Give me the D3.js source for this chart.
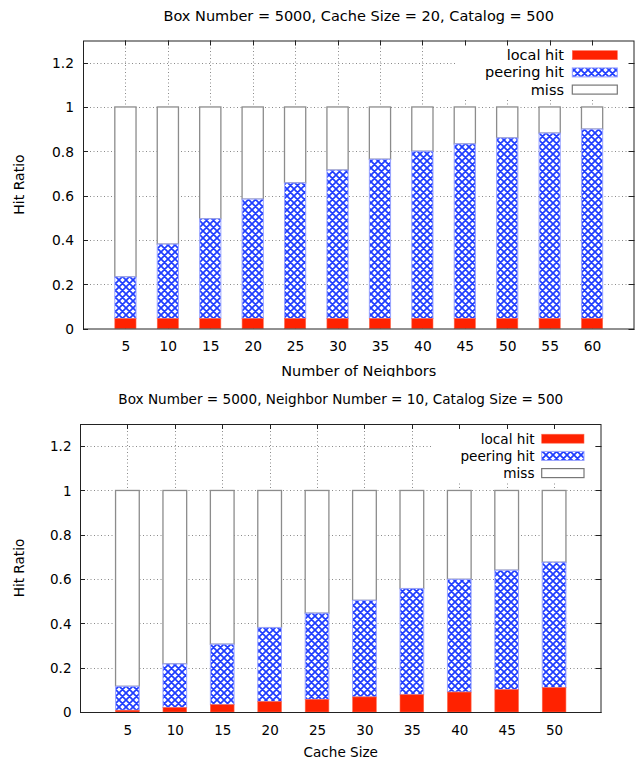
<!DOCTYPE html>
<html>
<head>
<meta charset="utf-8">
<script src="https://cdn.jsdelivr.net/npm/d3@7"></script>
<style>
  html, body { margin: 0; padding: 0; background: #fff; }
  svg { display: block; }
  text { font-family: "DejaVu Sans", sans-serif; fill: #000; }
</style>
</head>
<body>
<div id="chart"></div>
<script>
// ---------- data ----------
const neighborNumbers = [5, 10, 15, 20, 25, 30, 35, 40, 45, 50, 55, 60];
const localHitByNeighbors = [0.045, 0.045, 0.045, 0.045, 0.045, 0.045, 0.045, 0.045, 0.045, 0.045, 0.045, 0.045];
const peeringHitByNeighbors = [0.188, 0.336, 0.450, 0.539, 0.612, 0.670, 0.719, 0.755, 0.788, 0.815, 0.837, 0.855];

const cacheSizes = [5, 10, 15, 20, 25, 30, 35, 40, 45, 50];
const localHitByCache = [0.008, 0.020, 0.033, 0.047, 0.057, 0.068, 0.078, 0.090, 0.101, 0.110];
const peeringHitByCache = [0.108, 0.197, 0.273, 0.334, 0.389, 0.436, 0.479, 0.509, 0.539, 0.566];

const yTickValues = [0, 0.2, 0.4, 0.6, 0.8, 1, 1.2];
const seriesNames = ["local hit", "peering hit", "miss"];

const titleTop = "Box Number = 5000, Cache Size = 20, Catalog = 500";
const titleBottom = "Box Number = 5000, Neighbor Number = 10, Catalog Size = 500";

// ---------- drawing ----------
const W = 635, H = 760;
const RED = "#ff2200", BLUE = "#1f3dff";

const svg = d3.select("#chart").append("svg")
  .attr("width", W).attr("height", H);

const defs = svg.append("defs");
const pat = defs.append("pattern")
  .attr("id", "xhatch")
  .attr("patternUnits", "userSpaceOnUse")
  .attr("width", 7).attr("height", 7);
pat.append("rect").attr("width", 7).attr("height", 7).attr("fill", "#fff");
pat.append("path")
  .attr("d", "M-1,-1 L8,8 M-1,8 L8,-1 M-4.5,2.5 L2.5,-4.5 M4.5,11.5 L11.5,4.5 M-4.5,4.5 L2.5,11.5 M4.5,-4.5 L11.5,2.5")
  .attr("stroke", BLUE).attr("stroke-width", 1.7).attr("fill", "none");

defs.append("clipPath").attr("id", "clipTop")
  .append("rect").attr("x", 0).attr("y", 0).attr("width", W).attr("height", 377);

function drawChart(g, cfg) {
  const x = d3.scaleLinear().domain(cfg.xDomain).range([cfg.left, cfg.right]);
  const y = d3.scaleLinear().domain([0, 1.3]).range([cfg.bottom, cfg.top]);
  const barW = x(2.5) - x(0);

  // grid
  const grid = g.append("g").attr("stroke", "#8a8a8a").attr("stroke-width", 1)
    .attr("stroke-dasharray", "1,2.5").attr("fill", "none");
  grid.selectAll("line.gy").data(yTickValues.filter(v => v > 0)).join("line")
    .attr("x1", cfg.left).attr("x2", cfg.right)
    .attr("y1", d => Math.round(y(d)) + 0.5).attr("y2", d => Math.round(y(d)) + 0.5);
  grid.selectAll("line.gx").data(cfg.cats).join("line")
    .attr("x1", d => Math.round(x(d)) + 0.5).attr("x2", d => Math.round(x(d)) + 0.5)
    .attr("y1", cfg.bottom).attr("y2", cfg.top);

  // bars
  const rows = cfg.cats.map((c, i) => ({
    c, local: cfg.local[i], peer: cfg.peer[i], miss: 1 - cfg.local[i] - cfg.peer[i]
  }));
  const bars = g.append("g");
  const bg = bars.selectAll("g.bar").data(rows).join("g");
  bg.append("rect")
    .attr("x", d => x(d.c) - barW / 2).attr("width", barW)
    .attr("y", d => y(1)).attr("height", d => y(d.local + d.peer) - y(1))
    .attr("fill", "#fff").attr("stroke", "#8c8c8c").attr("stroke-width", 1.3);
  bg.append("rect")
    .attr("x", d => x(d.c) - barW / 2).attr("width", barW)
    .attr("y", d => y(d.local + d.peer)).attr("height", d => y(d.local) - y(d.local + d.peer))
    .attr("fill", "url(#xhatch)").attr("stroke", "#9aa4ff").attr("stroke-width", 1);
  bg.append("rect")
    .attr("x", d => x(d.c) - barW / 2).attr("width", barW)
    .attr("y", d => y(d.local)).attr("height", d => y(0) - y(d.local))
    .attr("fill", RED).attr("stroke", "#ff6a50").attr("stroke-width", 0.6);

  // legend (opaque key)
  const lg = g.append("g");
  lg.append("rect")
    .attr("x", cfg.key.boxX0).attr("y", cfg.key.boxY0)
    .attr("width", cfg.key.boxX1 - cfg.key.boxX0).attr("height", cfg.key.boxY1 - cfg.key.boxY0)
    .attr("fill", "#fff");
  seriesNames.forEach((name, i) => {
    const cy = cfg.key.y0 + i * cfg.key.dy;
    lg.append("text").attr("x", cfg.key.textX).attr("y", cy + 5)
      .attr("text-anchor", "end").attr("font-size", cfg.fText).text(name);
    const sw = lg.append("rect")
      .attr("x", cfg.key.sx0).attr("y", cy - 4.5)
      .attr("width", cfg.key.sx1 - cfg.key.sx0).attr("height", 9);
    if (i === 0) sw.attr("fill", RED).attr("stroke", "#ff6a50").attr("stroke-width", 0.6);
    else if (i === 1) sw.attr("fill", "url(#xhatch)").attr("stroke", "#9aa4ff").attr("stroke-width", 1);
    else sw.attr("fill", "#fff").attr("stroke", "#777").attr("stroke-width", 1.2);
  });

  // frame
  g.append("rect")
    .attr("x", cfg.left + 0.5).attr("y", cfg.top + 0.5)
    .attr("width", cfg.right - cfg.left - 1).attr("height", cfg.bottom - cfg.top)
    .attr("fill", "none").attr("stroke", "#222").attr("stroke-width", 1);

  // ticks (inward, mirrored)
  const tk = g.append("g").attr("stroke", "#222").attr("stroke-width", 1);
  tk.selectAll("line.tl").data(yTickValues).join("line")
    .attr("x1", cfg.left).attr("x2", cfg.left + 5)
    .attr("y1", d => Math.round(y(d)) + 0.5).attr("y2", d => Math.round(y(d)) + 0.5);
  tk.selectAll("line.tr").data(yTickValues).join("line")
    .attr("x1", cfg.right - 6).attr("x2", cfg.right)
    .attr("y1", d => Math.round(y(d)) + 0.5).attr("y2", d => Math.round(y(d)) + 0.5);
  tk.selectAll("line.tt").data(cfg.cats).join("line")
    .attr("x1", d => Math.round(x(d)) + 0.5).attr("x2", d => Math.round(x(d)) + 0.5)
    .attr("y1", cfg.top).attr("y2", cfg.top + 5);

  // tick labels
  const yAxis = d3.axisLeft(y).tickValues(yTickValues).tickSize(0).tickPadding(0)
    .tickFormat(d => d3.format("~g")(d));
  const ya = g.append("g").attr("transform", `translate(${cfg.yLabelX},0)`).call(yAxis);
  ya.select(".domain").remove();
  ya.selectAll("text").attr("font-size", cfg.fTick).attr("font-family", "DejaVu Sans").attr("fill", "#000")
    .attr("dy", "0.35em");

  const xAxis = d3.axisBottom(x).tickValues(cfg.cats).tickSize(0).tickPadding(0);
  const xa = g.append("g").attr("transform", `translate(0,${cfg.xLabelY})`).call(xAxis);
  xa.select(".domain").remove();
  xa.selectAll("text").attr("font-size", cfg.fTick).attr("font-family", "DejaVu Sans").attr("fill", "#000")
    .attr("dy", 0);

  // titles
  g.append("text").attr("x", (cfg.left + cfg.right) / 2).attr("y", cfg.titleY)
    .attr("text-anchor", "middle").attr("font-size", cfg.fText).text(cfg.title);
  g.append("text").attr("x", (cfg.left + cfg.right) / 2).attr("y", cfg.xTitleY)
    .attr("text-anchor", "middle").attr("font-size", cfg.fText).text(cfg.xTitle);
  g.append("text")
    .attr("transform", `translate(${cfg.yTitleX},${(cfg.top + cfg.bottom) / 2}) rotate(-90)`)
    .attr("text-anchor", "middle").attr("font-size", cfg.fY).text("Hit Ratio");
}

drawChart(svg.append("g").attr("clip-path", "url(#clipTop)"), {
  cats: neighborNumbers, local: localHitByNeighbors, peer: peeringHitByNeighbors,
  xDomain: [0, 65], left: 83, right: 634.5, top: 40.5, bottom: 328.5,
  fText: 14.5, fTick: 13.8, fY: 14,
  yLabelX: 74, xLabelY: 351,
  title: titleTop, titleY: 20.5, xTitle: "Number of Neighbors", xTitleY: 375.5, yTitleX: 24,
  key: { boxX0: 457, boxX1: 627, boxY0: 46, boxY1: 98, y0: 55.2, dy: 17.2,
         textX: 564, sx0: 572.3, sx1: 617.3 }
});

drawChart(svg.append("g"), {
  cats: cacheSizes, local: localHitByCache, peer: peeringHitByCache,
  xDomain: [0, 55], left: 80, right: 601.5, top: 424, bottom: 712,
  fText: 13.6, fTick: 13.5, fY: 13.6,
  yLabelX: 71.5, xLabelY: 734.5,
  title: titleBottom, titleY: 403.5, xTitle: "Cache Size", xTitleY: 757, yTitleX: 24,
  key: { boxX0: 433, boxX1: 595, boxY0: 428, boxY1: 482, y0: 438.7, dy: 17.2,
         textX: 534.5, sx0: 541.7, sx1: 584 }
});
</script>
</body>
</html>
